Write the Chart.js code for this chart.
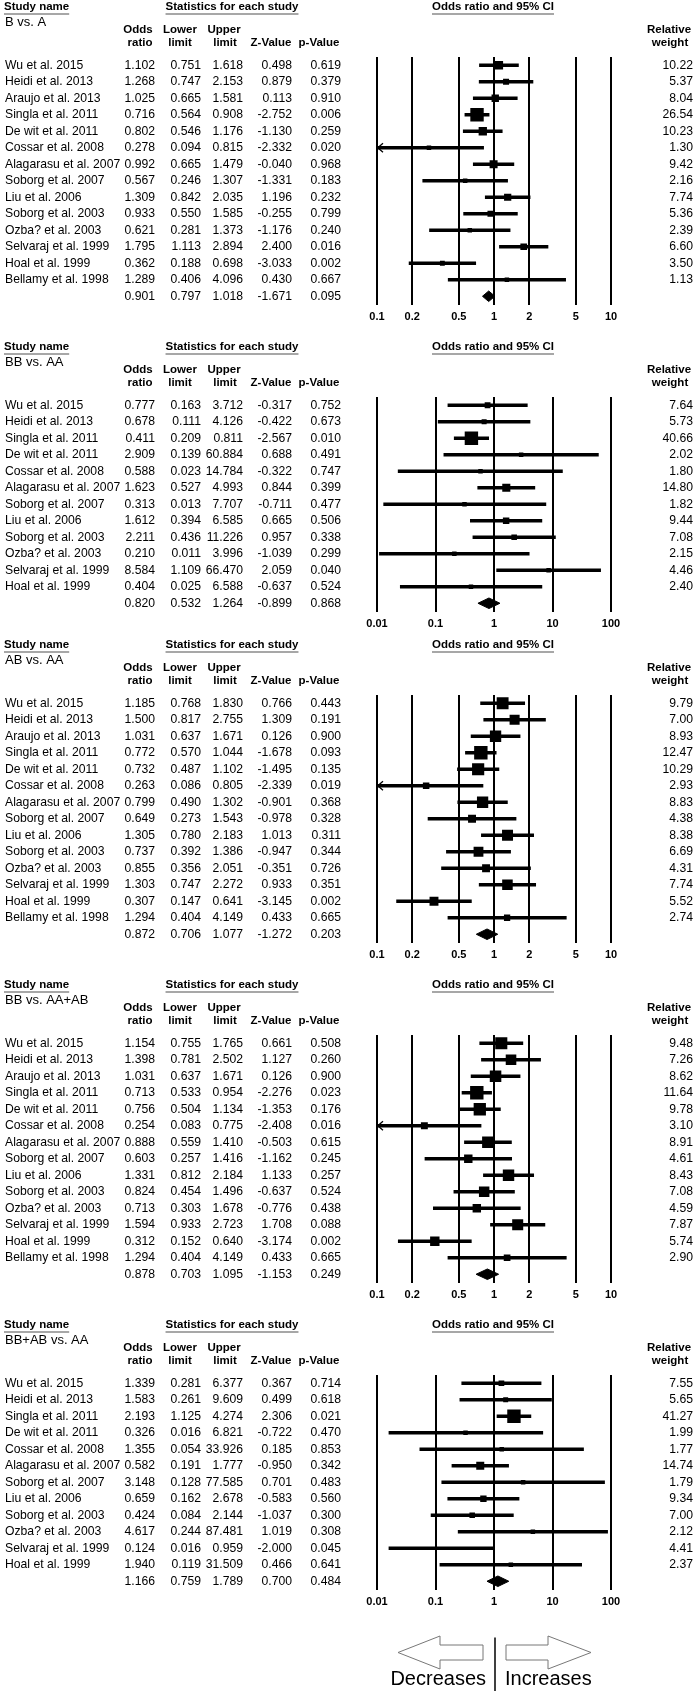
<!DOCTYPE html>
<html>
<head>
<meta charset="utf-8">
<script src="https://cdn.jsdelivr.net/npm/chart.js@4.4.0/dist/chart.umd.min.js"></script>
<style>
  html, body { margin: 0; padding: 0; background: #fff; }
  #page { position: relative; width: 700px; height: 1691px; overflow: hidden; background: #fff; }
  #page canvas { position: absolute; left: 0; }
</style>
</head>
<body>
<div id="page"></div>
<script>
const studies14 = ['Wu et al. 2015', 'Heidi et al. 2013', 'Araujo et al. 2013', 'Singla et al. 2011',
  'De wit et al. 2011', 'Cossar et al. 2008', 'Alagarasu et al. 2007', 'Soborg et al. 2007',
  'Liu et al. 2006', 'Soborg et al. 2003', 'Ozba? et al. 2003', 'Selvaraj et al. 1999',
  'Hoal et al. 1999', 'Bellamy et al. 1998'];
const studies12 = ['Wu et al. 2015', 'Heidi et al. 2013', 'Singla et al. 2011', 'De wit et al. 2011',
  'Cossar et al. 2008', 'Alagarasu et al. 2007', 'Soborg et al. 2007', 'Liu et al. 2006',
  'Soborg et al. 2003', 'Ozba? et al. 2003', 'Selvaraj et al. 1999', 'Hoal et al. 1999'];

const ticksNarrow = [0.1, 0.2, 0.5, 1, 2, 5, 10];
const ticksWide = [0.01, 0.1, 1, 10, 100];

// last entry of each stat array is the pooled estimate
// B vs. A
const bvaOR    = [1.102, 1.268, 1.025, 0.716, 0.802, 0.278, 0.992, 0.567, 1.309, 0.933, 0.621, 1.795, 0.362, 1.289, 0.901];
const bvaLower = [0.751, 0.747, 0.665, 0.564, 0.546, 0.094, 0.665, 0.246, 0.842, 0.550, 0.281, 1.113, 0.188, 0.406, 0.797];
const bvaUpper = [1.618, 2.153, 1.581, 0.908, 1.176, 0.815, 1.479, 1.307, 2.035, 1.585, 1.373, 2.894, 0.698, 4.096, 1.018];
const bvaZ     = [0.498, 0.879, 0.113, -2.752, -1.130, -2.332, -0.040, -1.331, 1.196, -0.255, -1.176, 2.400, -3.033, 0.430, -1.671];
const bvaP     = [0.619, 0.379, 0.910, 0.006, 0.259, 0.020, 0.968, 0.183, 0.232, 0.799, 0.240, 0.016, 0.002, 0.667, 0.095];
const bvaWeight = [10.22, 5.37, 8.04, 26.54, 10.23, 1.30, 9.42, 2.16, 7.74, 5.36, 2.39, 6.60, 3.50, 1.13];

// BB vs. AA
const bbOR    = [0.777, 0.678, 0.411, 2.909, 0.588, 1.623, 0.313, 1.612, 2.211, 0.210, 8.584, 0.404, 0.820];
const bbLower = [0.163, 0.111, 0.209, 0.139, 0.023, 0.527, 0.013, 0.394, 0.436, 0.011, 1.109, 0.025, 0.532];
const bbUpper = [3.712, 4.126, 0.811, 60.884, 14.784, 4.993, 7.707, 6.585, 11.226, 3.996, 66.470, 6.588, 1.264];
const bbZ     = [-0.317, -0.422, -2.567, 0.688, -0.322, 0.844, -0.711, 0.665, 0.957, -1.039, 2.059, -0.637, -0.899];
const bbP     = [0.752, 0.673, 0.010, 0.491, 0.747, 0.399, 0.477, 0.506, 0.338, 0.299, 0.040, 0.524, 0.868];
const bbWeight = [7.64, 5.73, 40.66, 2.02, 1.80, 14.80, 1.82, 9.44, 7.08, 2.15, 4.46, 2.40];

// AB vs. AA
const abOR    = [1.185, 1.500, 1.031, 0.772, 0.732, 0.263, 0.799, 0.649, 1.305, 0.737, 0.855, 1.303, 0.307, 1.294, 0.872];
const abLower = [0.768, 0.817, 0.637, 0.570, 0.487, 0.086, 0.490, 0.273, 0.780, 0.392, 0.356, 0.747, 0.147, 0.404, 0.706];
const abUpper = [1.830, 2.755, 1.671, 1.044, 1.102, 0.805, 1.302, 1.543, 2.183, 1.386, 2.051, 2.272, 0.641, 4.149, 1.077];
const abZ     = [0.766, 1.309, 0.126, -1.678, -1.495, -2.339, -0.901, -0.978, 1.013, -0.947, -0.351, 0.933, -3.145, 0.433, -1.272];
const abP     = [0.443, 0.191, 0.900, 0.093, 0.135, 0.019, 0.368, 0.328, 0.311, 0.344, 0.726, 0.351, 0.002, 0.665, 0.203];
const abWeight = [9.79, 7.00, 8.93, 12.47, 10.29, 2.93, 8.83, 4.38, 8.38, 6.69, 4.31, 7.74, 5.52, 2.74];

// BB vs. AA+AB
const recOR    = [1.154, 1.398, 1.031, 0.713, 0.756, 0.254, 0.888, 0.603, 1.331, 0.824, 0.713, 1.594, 0.312, 1.294, 0.878];
const recLower = [0.755, 0.781, 0.637, 0.533, 0.504, 0.083, 0.559, 0.257, 0.812, 0.454, 0.303, 0.933, 0.152, 0.404, 0.703];
const recUpper = [1.765, 2.502, 1.671, 0.954, 1.134, 0.775, 1.410, 1.416, 2.184, 1.496, 1.678, 2.723, 0.640, 4.149, 1.095];
const recZ     = [0.661, 1.127, 0.126, -2.276, -1.353, -2.408, -0.503, -1.162, 1.133, -0.637, -0.776, 1.708, -3.174, 0.433, -1.153];
const recP     = [0.508, 0.260, 0.900, 0.023, 0.176, 0.016, 0.615, 0.245, 0.257, 0.524, 0.438, 0.088, 0.002, 0.665, 0.249];
const recWeight = [9.48, 7.26, 8.62, 11.64, 9.78, 3.10, 8.91, 4.61, 8.43, 7.08, 4.59, 7.87, 5.74, 2.90];

// BB+AB vs. AA
const domOR    = [1.339, 1.583, 2.193, 0.326, 1.355, 0.582, 3.148, 0.659, 0.424, 4.617, 0.124, 1.940, 1.166];
const domLower = [0.281, 0.261, 1.125, 0.016, 0.054, 0.191, 0.128, 0.162, 0.084, 0.244, 0.016, 0.119, 0.759];
const domUpper = [6.377, 9.609, 4.274, 6.821, 33.926, 1.777, 77.585, 2.678, 2.144, 87.481, 0.959, 31.509, 1.789];
const domZ     = [0.367, 0.499, 2.306, -0.722, 0.185, -0.950, 0.701, -0.583, -1.037, 1.019, -2.000, 0.466, 0.700];
const domP     = [0.714, 0.618, 0.021, 0.470, 0.853, 0.342, 0.483, 0.560, 0.300, 0.308, 0.045, 0.641, 0.484];
const domWeight = [7.55, 5.65, 41.27, 1.99, 1.77, 14.74, 1.79, 9.34, 7.00, 2.12, 4.41, 2.37];

const panels = [
  { title: 'B vs. A', names: studies14, or: bvaOR, lo: bvaLower, hi: bvaUpper, z: bvaZ, p: bvaP, w: bvaWeight, ticks: ticksNarrow, top: 57 },
  { title: 'BB vs. AA', names: studies12, or: bbOR, lo: bbLower, hi: bbUpper, z: bbZ, p: bbP, w: bbWeight, ticks: ticksWide, top: 397 },
  { title: 'AB vs. AA', names: studies14, or: abOR, lo: abLower, hi: abUpper, z: abZ, p: abP, w: abWeight, ticks: ticksNarrow, top: 695 },
  { title: 'BB vs. AA+AB', names: studies14, or: recOR, lo: recLower, hi: recUpper, z: recZ, p: recP, w: recWeight, ticks: ticksNarrow, top: 1035 },
  // the original shows no box for Selvaraj in this panel
  { title: 'BB+AB vs. AA', names: studies12, or: domOR, lo: domLower, hi: domUpper, z: domZ, p: domP, w: domWeight, ticks: ticksWide, top: 1375, noBox: [10], footer: true },
];

const FONT = '"Liberation Sans", Arial, Helvetica, sans-serif';
const ROW = 16.5;
const PAD_TOP = 60;
const AXIS_H = 13.2 + 2 * 6;
Chart.defaults.font.family = FONT;

function put(ctx, s, x, y, align, font, underline) {
  ctx.font = font;
  ctx.textAlign = align;
  ctx.textBaseline = 'middle';
  ctx.fillStyle = '#000';
  ctx.fillText(s, x, y);
  if (underline) {
    const w = ctx.measureText(s).width;
    const x0 = align === 'center' ? x - w / 2 : (align === 'right' ? x - w : x);
    ctx.strokeStyle = '#8a8a8a';
    ctx.lineWidth = 1.6;
    ctx.beginPath();
    ctx.moveTo(x0, y + 7);
    ctx.lineTo(x0 + w, y + 7);
    ctx.stroke();
  }
}

function arrowShape(ctx, tip, base, tail, cy, bodyH, headH) {
  ctx.beginPath();
  ctx.moveTo(tip, cy);
  ctx.lineTo(base, cy - headH);
  ctx.lineTo(base, cy - bodyH);
  ctx.lineTo(tail, cy - bodyH);
  ctx.lineTo(tail, cy + bodyH);
  ctx.lineTo(base, cy + bodyH);
  ctx.lineTo(base, cy + headH);
  ctx.closePath();
  ctx.fillStyle = '#fff';
  ctx.fill();
  ctx.strokeStyle = '#777';
  ctx.lineWidth = 1;
  ctx.stroke();
}

const page = document.getElementById('page');

panels.forEach((pn) => {
  const n = pn.names.length;
  const rows = n + 1;
  const canvasTop = pn.top - PAD_TOP;
  const H = pn.footer ? 1691 - canvasTop : Math.ceil(PAD_TOP + rows * ROW + AXIS_H + 8);
  const cv = document.createElement('canvas');
  cv.width = 700;
  cv.height = H;
  cv.style.top = canvasTop + 'px';
  page.appendChild(cv);

  const xMin = pn.ticks[0];
  const xMax = pn.ticks[pn.ticks.length - 1];
  const wMax = Math.max(...pn.w);
  const boxSide = (i) => Math.max(4.5, 13.4 * Math.sqrt(pn.w[i] / wMax));
  const noBox = pn.noBox || [];

  const ciData = pn.names.map((_, i) => ({ x: [pn.lo[i], pn.hi[i]], y: i }));
  const boxData = pn.names.map((_, i) => ({ x: pn.or[i], y: i }));
  const h = 0.32;
  const diamond = [
    { x: pn.lo[n], y: n }, { x: pn.or[n], y: n - h }, { x: pn.hi[n], y: n },
    { x: pn.or[n], y: n + h }, { x: pn.lo[n], y: n },
  ];

  const tablePlugin = {
    id: 'table',
    afterDraw(chart) {
      const ctx = chart.ctx;
      const area = chart.chartArea;
      const top = area.top;
      const xs = chart.scales.x, ys = chart.scales.y;
      const bold = 'bold 11.5px ' + FONT;
      const reg = '12.2px ' + FONT;
      const x1 = xs.getPixelForValue(1);
      ctx.save();

      put(ctx, 'Study name', 4, top - 50, 'left', bold, true);
      put(ctx, 'Statistics for each study', 232, top - 50, 'center', bold, true);
      put(ctx, 'Odds ratio and 95% CI', x1 - 1, top - 50, 'center', bold, true);
      put(ctx, pn.title, 5, top - 35, 'left', '13px ' + FONT);

      put(ctx, 'Odds', 138, top - 27, 'center', bold);
      put(ctx, 'ratio', 140, top - 14, 'center', bold);
      put(ctx, 'Lower', 180, top - 27, 'center', bold);
      put(ctx, 'limit', 180, top - 14, 'center', bold);
      put(ctx, 'Upper', 224, top - 27, 'center', bold);
      put(ctx, 'limit', 225, top - 14, 'center', bold);
      put(ctx, 'Z-Value', 271, top - 14, 'center', bold);
      put(ctx, 'p-Value', 319, top - 14, 'center', bold);
      put(ctx, 'Relative', 669, top - 27, 'center', bold);
      put(ctx, 'weight', 670, top - 14, 'center', bold);

      for (let i = 0; i <= n; i++) {
        const y = ys.getPixelForValue(i);
        if (i < n) put(ctx, pn.names[i], 5, y, 'left', reg);
        put(ctx, pn.or[i].toFixed(3), 155, y, 'right', reg);
        put(ctx, pn.lo[i].toFixed(3), 201, y, 'right', reg);
        put(ctx, pn.hi[i].toFixed(3), 243, y, 'right', reg);
        put(ctx, pn.z[i].toFixed(3), 292, y, 'right', reg);
        put(ctx, pn.p[i].toFixed(3), 341, y, 'right', reg);
        if (i < n) put(ctx, pn.w[i].toFixed(2), 693, y, 'right', reg);

        // open arrowhead where the interval runs off the axis
        if (i < n && pn.lo[i] < xMin) {
          const L = area.left;
          ctx.strokeStyle = '#000';
          ctx.lineWidth = 1.3;
          ctx.beginPath();
          ctx.moveTo(L + 6, y - 4.5);
          ctx.lineTo(L + 0.8, y);
          ctx.lineTo(L + 6, y + 4.5);
          ctx.stroke();
        }
      }

      if (pn.footer) {
        const b = area.bottom;
        const cy = b + 63;
        arrowShape(ctx, x1 - 96, x1 - 54, x1 - 11, cy, 7.5, 16.5);
        arrowShape(ctx, x1 + 97, x1 + 54, x1 + 12, cy, 7.5, 16.5);
        ctx.strokeStyle = '#000';
        ctx.lineWidth = 1.5;
        ctx.beginPath();
        ctx.moveTo(x1 + 1, b + 48);
        ctx.lineTo(x1 + 1, chart.height);
        ctx.stroke();
        put(ctx, 'Decreases', x1 - 8, b + 90, 'right', '20px ' + FONT);
        put(ctx, 'Increases', x1 + 11, b + 90, 'left', '20px ' + FONT);
      }
      ctx.restore();
    },
  };

  new Chart(cv, {
    type: 'scatter',
    data: {
      datasets: [
        {
          type: 'bar',
          indexAxis: 'y',
          data: ciData,
          backgroundColor: '#000',
          borderWidth: 0,
          barThickness: 3,
          order: 3,
        },
        {
          type: 'scatter',
          data: boxData,
          pointStyle: 'rect',
          pointRadius: (c) => (noBox.includes(c.dataIndex) ? 0 : boxSide(c.dataIndex) / Math.SQRT2),
          pointBackgroundColor: '#000',
          pointBorderWidth: 0,
          order: 2,
        },
        {
          type: 'line',
          data: diamond,
          borderColor: '#000',
          backgroundColor: '#000',
          borderWidth: 1,
          fill: 'shape',
          pointRadius: 0,
          tension: 0,
          order: 1,
        },
      ],
    },
    options: {
      responsive: false,
      animation: false,
      events: [],
      layout: {
        padding: { left: 377, right: 89, top: PAD_TOP, bottom: H - PAD_TOP - rows * ROW - AXIS_H },
      },
      scales: {
        x: {
          type: 'logarithmic',
          min: xMin,
          max: xMax,
          afterBuildTicks: (s) => { s.ticks = pn.ticks.map((v) => ({ value: v })); },
          border: { display: false },
          grid: { color: '#000', lineWidth: 2, drawTicks: false, offset: false },
          offset: false,
          ticks: {
            autoSkip: false,
            maxRotation: 0,
            padding: 6,
            color: '#000',
            font: { size: 11, weight: 'bold' },
            callback: (v) => String(v),
          },
        },
        y: {
          type: 'linear',
          reverse: true,
          min: -0.5,
          max: n + 0.5,
          offset: false,
          grid: { offset: false },
          display: false,
        },
      },
      plugins: {
        legend: { display: false },
        tooltip: { enabled: false },
      },
    },
    plugins: [tablePlugin],
  });
});
</script>
</body>
</html>
